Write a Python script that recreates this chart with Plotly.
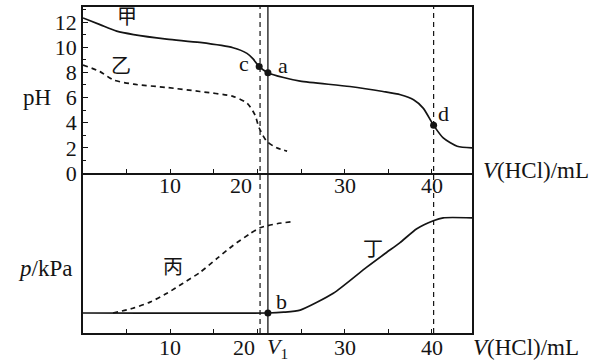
import plotly.graph_objects as go

# ---------------- data ----------------
V_JIA = [0, 1.95, 3.86, 5.8, 9.6, 13.4, 17.2, 18.8, 19.5, 20.2, 21.2, 23.0, 24.9,
         30.6, 34.4, 36.4, 37.9, 39.0, 40.2, 41.3, 42.9, 44.6]
PH_JIA = [12.33, 11.8, 11.28, 11.01, 10.65, 10.38, 9.96, 9.51, 9.07, 8.46, 7.98, 7.59, 7.3,
          6.88, 6.48, 6.22, 5.82, 5.16, 3.79, 2.79, 2.13, 2.0]

V_YI = [0, 1.95, 3.48, 5.8, 9.6, 13.4, 17.2, 18.8, 19.7, 20.2, 21.06, 22.2, 23.4]
PH_YI = [8.59, 8.06, 7.4, 7.06, 6.8, 6.48, 6.09, 5.56, 4.64, 3.58, 2.53, 2.0, 1.74]

V_BING = [3.44, 5.73, 7.68, 9.63, 11.47, 13.42, 15.37, 17.2, 19.15, 20.3, 22.25, 24.08]
P_BING = [1.25, 1.55, 1.93, 2.48, 3.11, 3.79, 4.66, 5.47, 6.21, 6.58, 6.83, 6.96]

V_DING = [0, 21.2, 23.0, 24.9, 28.7, 32.5, 34.8, 36.35, 38.27, 40.17, 41.3, 44.6]
P_DING = [1.25, 1.25, 1.3, 1.43, 2.48, 4.1, 5.03, 5.65, 6.52, 7.02, 7.2, 7.2]

PT_V = [20.2, 21.2, 40.2]
PT_PH = [8.46, 7.98, 3.79]
B_V = [21.2]
B_P = [1.25]

V_EQ = [20.3, 40.2]   # dashed vertical lines
V1 = 21.2             # solid vertical line

X_TICKS = [5, 10, 15, 20, 25, 30, 35, 40]
X_TICK_LABELS = [10, 30, 40]
PH_TICKS = [0, 2, 4, 6, 8, 10, 12]

# ---------------- style ----------------
INK = "#141414"
SERIF = "Liberation Serif"
CJK = "Noto Sans CJK SC"
DASH = "5px,4px"
FS = 22
FT = 23


def txt(**kw):
    d = dict(showarrow=False, xanchor="center", yanchor="middle",
             font=dict(family=SERIF, size=FS, color=INK))
    d.update(kw)
    return d


fig = go.Figure()

fig.add_trace(go.Scatter(x=V_JIA, y=PH_JIA, mode="lines", xaxis="x", yaxis="y",
                         line=dict(color=INK, width=1.7, shape="spline", smoothing=0.7)))
fig.add_trace(go.Scatter(x=V_YI, y=PH_YI, mode="lines", xaxis="x", yaxis="y",
                         line=dict(color=INK, width=1.7, dash=DASH, shape="spline", smoothing=0.7)))
fig.add_trace(go.Scatter(x=V_BING, y=P_BING, mode="lines", xaxis="x2", yaxis="y2",
                         line=dict(color=INK, width=1.7, dash=DASH, shape="spline", smoothing=0.7)))
fig.add_trace(go.Scatter(x=V_DING, y=P_DING, mode="lines", xaxis="x2", yaxis="y2",
                         line=dict(color=INK, width=1.7, shape="spline", smoothing=0.6)))
fig.add_trace(go.Scatter(x=PT_V, y=PT_PH, mode="markers", xaxis="x", yaxis="y",
                         marker=dict(color=INK, size=7)))
fig.add_trace(go.Scatter(x=B_V, y=B_P, mode="markers", xaxis="x2", yaxis="y2",
                         marker=dict(color=INK, size=7)))

shapes = []
for v in V_EQ:
    shapes.append(dict(type="line", xref="x", yref="paper", x0=v, x1=v, y0=0, y1=1,
                       line=dict(color=INK, width=1.2, dash=DASH)))
shapes.append(dict(type="line", xref="x", yref="paper", x0=V1, x1=V1, y0=0, y1=1,
                   line=dict(color=INK, width=1.3)))

SPLIT = 161 / 328

ann = []
# x tick labels (top and bottom panels)
for v in X_TICK_LABELS:
    ann.append(txt(x=v, y=0.451, xref="x", yref="paper", text=str(v)))
    ann.append(txt(x=v, y=-0.045, xref="x", yref="paper", text=str(v)))
ann.append(txt(x=V_EQ[0], y=0.451, xref="x", yref="paper", text="20",
               xanchor="right", xshift=-6))
ann.append(txt(x=V_EQ[0], y=-0.045, xref="x", yref="paper", text="20",
               xanchor="right", xshift=-3))
ann.append(txt(x=V1, y=-0.045, xref="x", yref="paper", text="<i>V</i><sub>1</sub>",
               xanchor="left", xshift=-3))
# axis titles
ann.append(txt(x=1.024, y=0.497, xref="paper", yref="paper", text="<i>V</i>(HCl)/mL",
               xanchor="left", font=dict(family=SERIF, size=FT, color=INK)))
ann.append(txt(x=0.998, y=-0.043, xref="paper", yref="paper", text="<i>V</i>(HCl)/mL",
               xanchor="left", font=dict(family=SERIF, size=FT, color=INK)))
ann.append(txt(x=-0.117, y=0.722, xref="paper", yref="paper", text="pH",
               font=dict(family=SERIF, size=FT, color=INK)))
ann.append(txt(x=-0.098, y=0.198, xref="paper", yref="paper", text="<i>p</i>/kPa",
               font=dict(family=SERIF, size=FT, color=INK)))
# curve names
for t, x, y, xr, yr in [("甲", 5.1, 12.5, "x", "y"), ("乙", 4.3, 8.6, "x", "y"),
                        ("丙", 10.3, 4.2, "x2", "y2"), ("丁", 33.2, 5.35, "x2", "y2")]:
    ann.append(txt(x=x, y=y, xref=xr, yref=yr, text=t,
                   font=dict(family=CJK, size=20, color=INK)))
# point letters
for t, v, ph, dx, dy in [("c", PT_V[0], PT_PH[0], -15, 3), ("a", PT_V[1], PT_PH[1], 15, 7),
                         ("d", PT_V[2], PT_PH[2], 10, 12)]:
    ann.append(txt(x=v, y=ph, xref="x", yref="y", text=t, xshift=dx, yshift=dy))
ann.append(txt(x=B_V[0], y=B_P[0], xref="x2", yref="y2", text="b", xshift=14, yshift=12))

line_kw = dict(showline=True, linecolor=INK, linewidth=1.6, showgrid=False, zeroline=False)

fig.update_layout(
    width=601, height=362,
    margin=dict(l=83, r=129, t=5, b=29),
    paper_bgcolor="white", plot_bgcolor="white",
    showlegend=False,
    shapes=shapes,
    annotations=ann,
    xaxis=dict(line_kw, mirror=True, range=[0, 44.6], anchor="y", domain=[0, 1],
               tickvals=X_TICKS, ticks="inside", ticklen=4, tickcolor=INK, tickwidth=1.2,
               showticklabels=False),
    yaxis=dict(line_kw, mirror=True, range=[0, 13.2], domain=[SPLIT, 1], anchor="x",
               tickvals=PH_TICKS, ticks="inside", ticklen=5, tickcolor=INK, tickwidth=1.2,
               tickfont=dict(family=SERIF, size=FS, color=INK),
               minor=dict(dtick=1, ticks="inside", ticklen=3, tickcolor=INK, tickwidth=1)),
    xaxis2=dict(line_kw, mirror=False, range=[0, 44.6], anchor="y2", domain=[0, 1],
                tickvals=X_TICKS, ticks="inside", ticklen=4, tickcolor=INK, tickwidth=1.2,
                showticklabels=False),
    yaxis2=dict(line_kw, mirror=True, range=[0, 10], domain=[0, SPLIT], anchor="x2",
                showticklabels=False, ticks=""),
)

fig.write_html("out.html")
